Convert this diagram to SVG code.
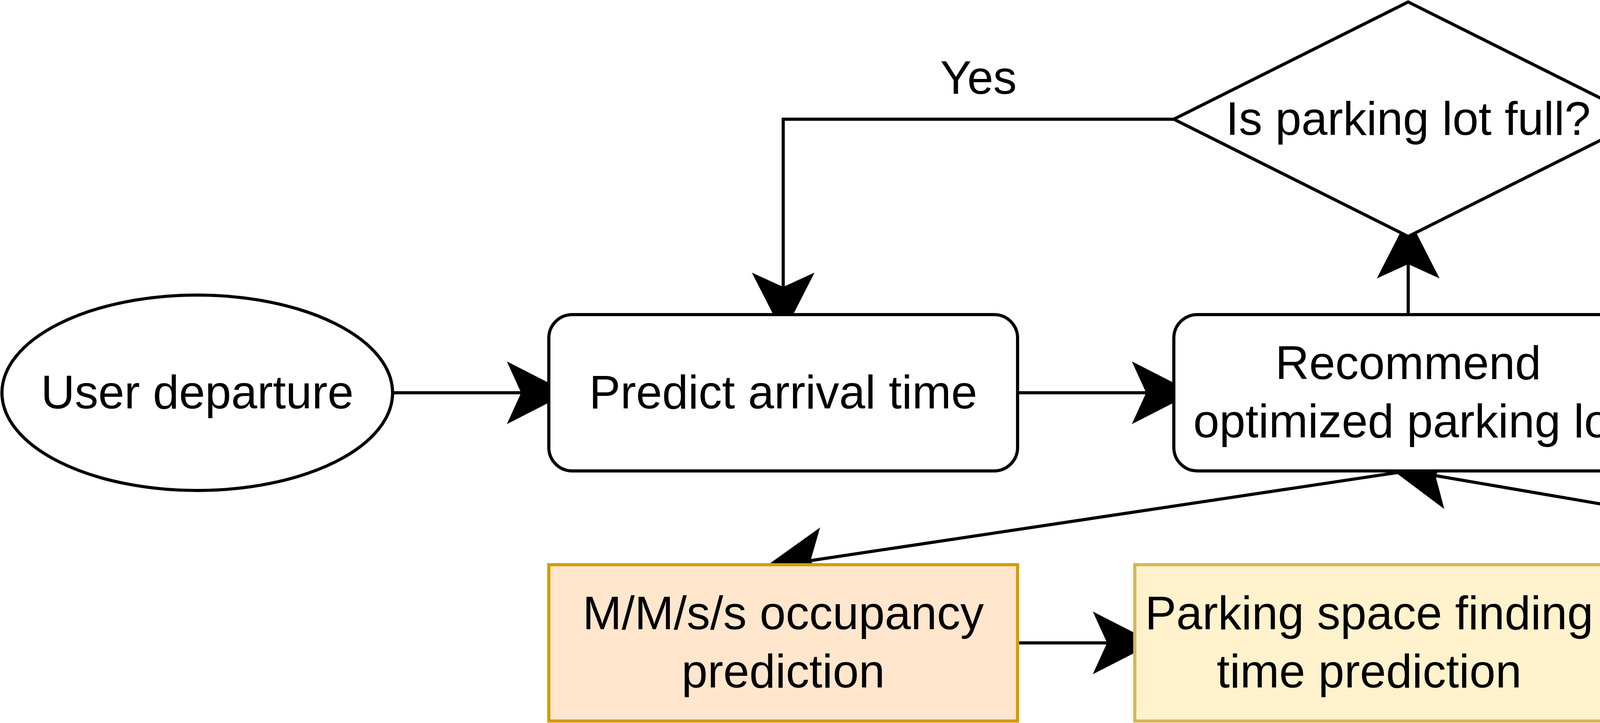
<svg xmlns="http://www.w3.org/2000/svg" width="5610" height="1850" viewBox="0 0 5610 1850">
<style>
.n{stroke:#000;stroke-width:8;fill:#fff}
.t{font-family:"Liberation Sans",Arial,Helvetica,sans-serif;font-size:120px;fill:#000;text-anchor:middle}
.e{fill:none;stroke:#000;stroke-width:8;marker-end:url(#ah)}
</style>
<defs>
<marker id="ah" markerUnits="userSpaceOnUse" markerWidth="200" markerHeight="200" viewBox="-30 -60 120 120" refX="0" refY="0" orient="auto" overflow="visible">
<path d="M69,0 L-21,-46 L0,0 L-21,46 Z" fill="#000" stroke="#000" stroke-width="2"/>
</marker>
</defs>
<rect width="5610" height="1850" fill="#fff"/>
<g id="connectors">
<path class="e" d="M1005,1005 L1336,1005"/>
<path class="e" d="M2605,1005 L2936,1005"/>
<path class="e" d="M3605,805 L3605,674"/>
<path class="e" d="M3005,305 L2005,305 L2005,736"/>
<path class="e" d="M4205,305 L4405,305 L4536.1,298.4"/>
<path class="e" d="M3605,1205 L2073.2,1434.8"/>
<path class="e" d="M5005,1445 L3673,1216.7"/>
<path class="e" d="M2605,1645 L2836,1645"/>
<path class="e" d="M4105,1645 L4336,1645"/>
<text class="t" x="2505" y="240">Yes</text>
<text class="t" x="4413" y="241">No</text>
</g>
<g id="user-departure">
<ellipse class="n" cx="505" cy="1005" rx="500" ry="250"/>
<text class="t" x="505" y="1045">User departure</text>
</g>
<g id="predict-arrival">
<rect class="n" x="1405" y="805" width="1200" height="400" rx="60" ry="60"/>
<text class="t" x="2005" y="1045">Predict arrival time</text>
</g>
<g id="recommend">
<rect class="n" x="3005" y="805" width="1200" height="400" rx="60" ry="60"/>
<text class="t" x="3605" y="970">Recommend</text>
<text class="t" x="3605" y="1119">optimized parking lot</text>
</g>
<g id="decision">
<path class="n" d="M3605,5 L4205,305 L3605,605 L3005,305 Z"/>
<text class="t" x="3605" y="345">Is parking lot full?</text>
</g>
<g id="user-terminate">
<ellipse class="n" cx="5105" cy="295" rx="500" ry="250"/>
<text class="t" x="5105" y="335">User terminate</text>
</g>
<g id="mmss">
<rect x="1405" y="1445" width="1200" height="400" fill="#ffe6cc" stroke="#d79b00" stroke-width="8"/>
<text class="t" x="2005" y="1610">M/M/s/s occupancy</text>
<text class="t" x="2005" y="1759">prediction</text>
</g>
<g id="space-finding">
<rect x="2905" y="1445" width="1200" height="400" fill="#fff2cc" stroke="#d6b656" stroke-width="8"/>
<text class="t" x="3505" y="1610">Parking space finding</text>
<text class="t" x="3505" y="1759">time prediction</text>
</g>
<g id="walk-time">
<rect x="4405" y="1445" width="1200" height="400" fill="#f8cecc" stroke="#b85450" stroke-width="8"/>
<text class="t" x="5005" y="1685">walk time prediction</text>
</g>
</svg>
